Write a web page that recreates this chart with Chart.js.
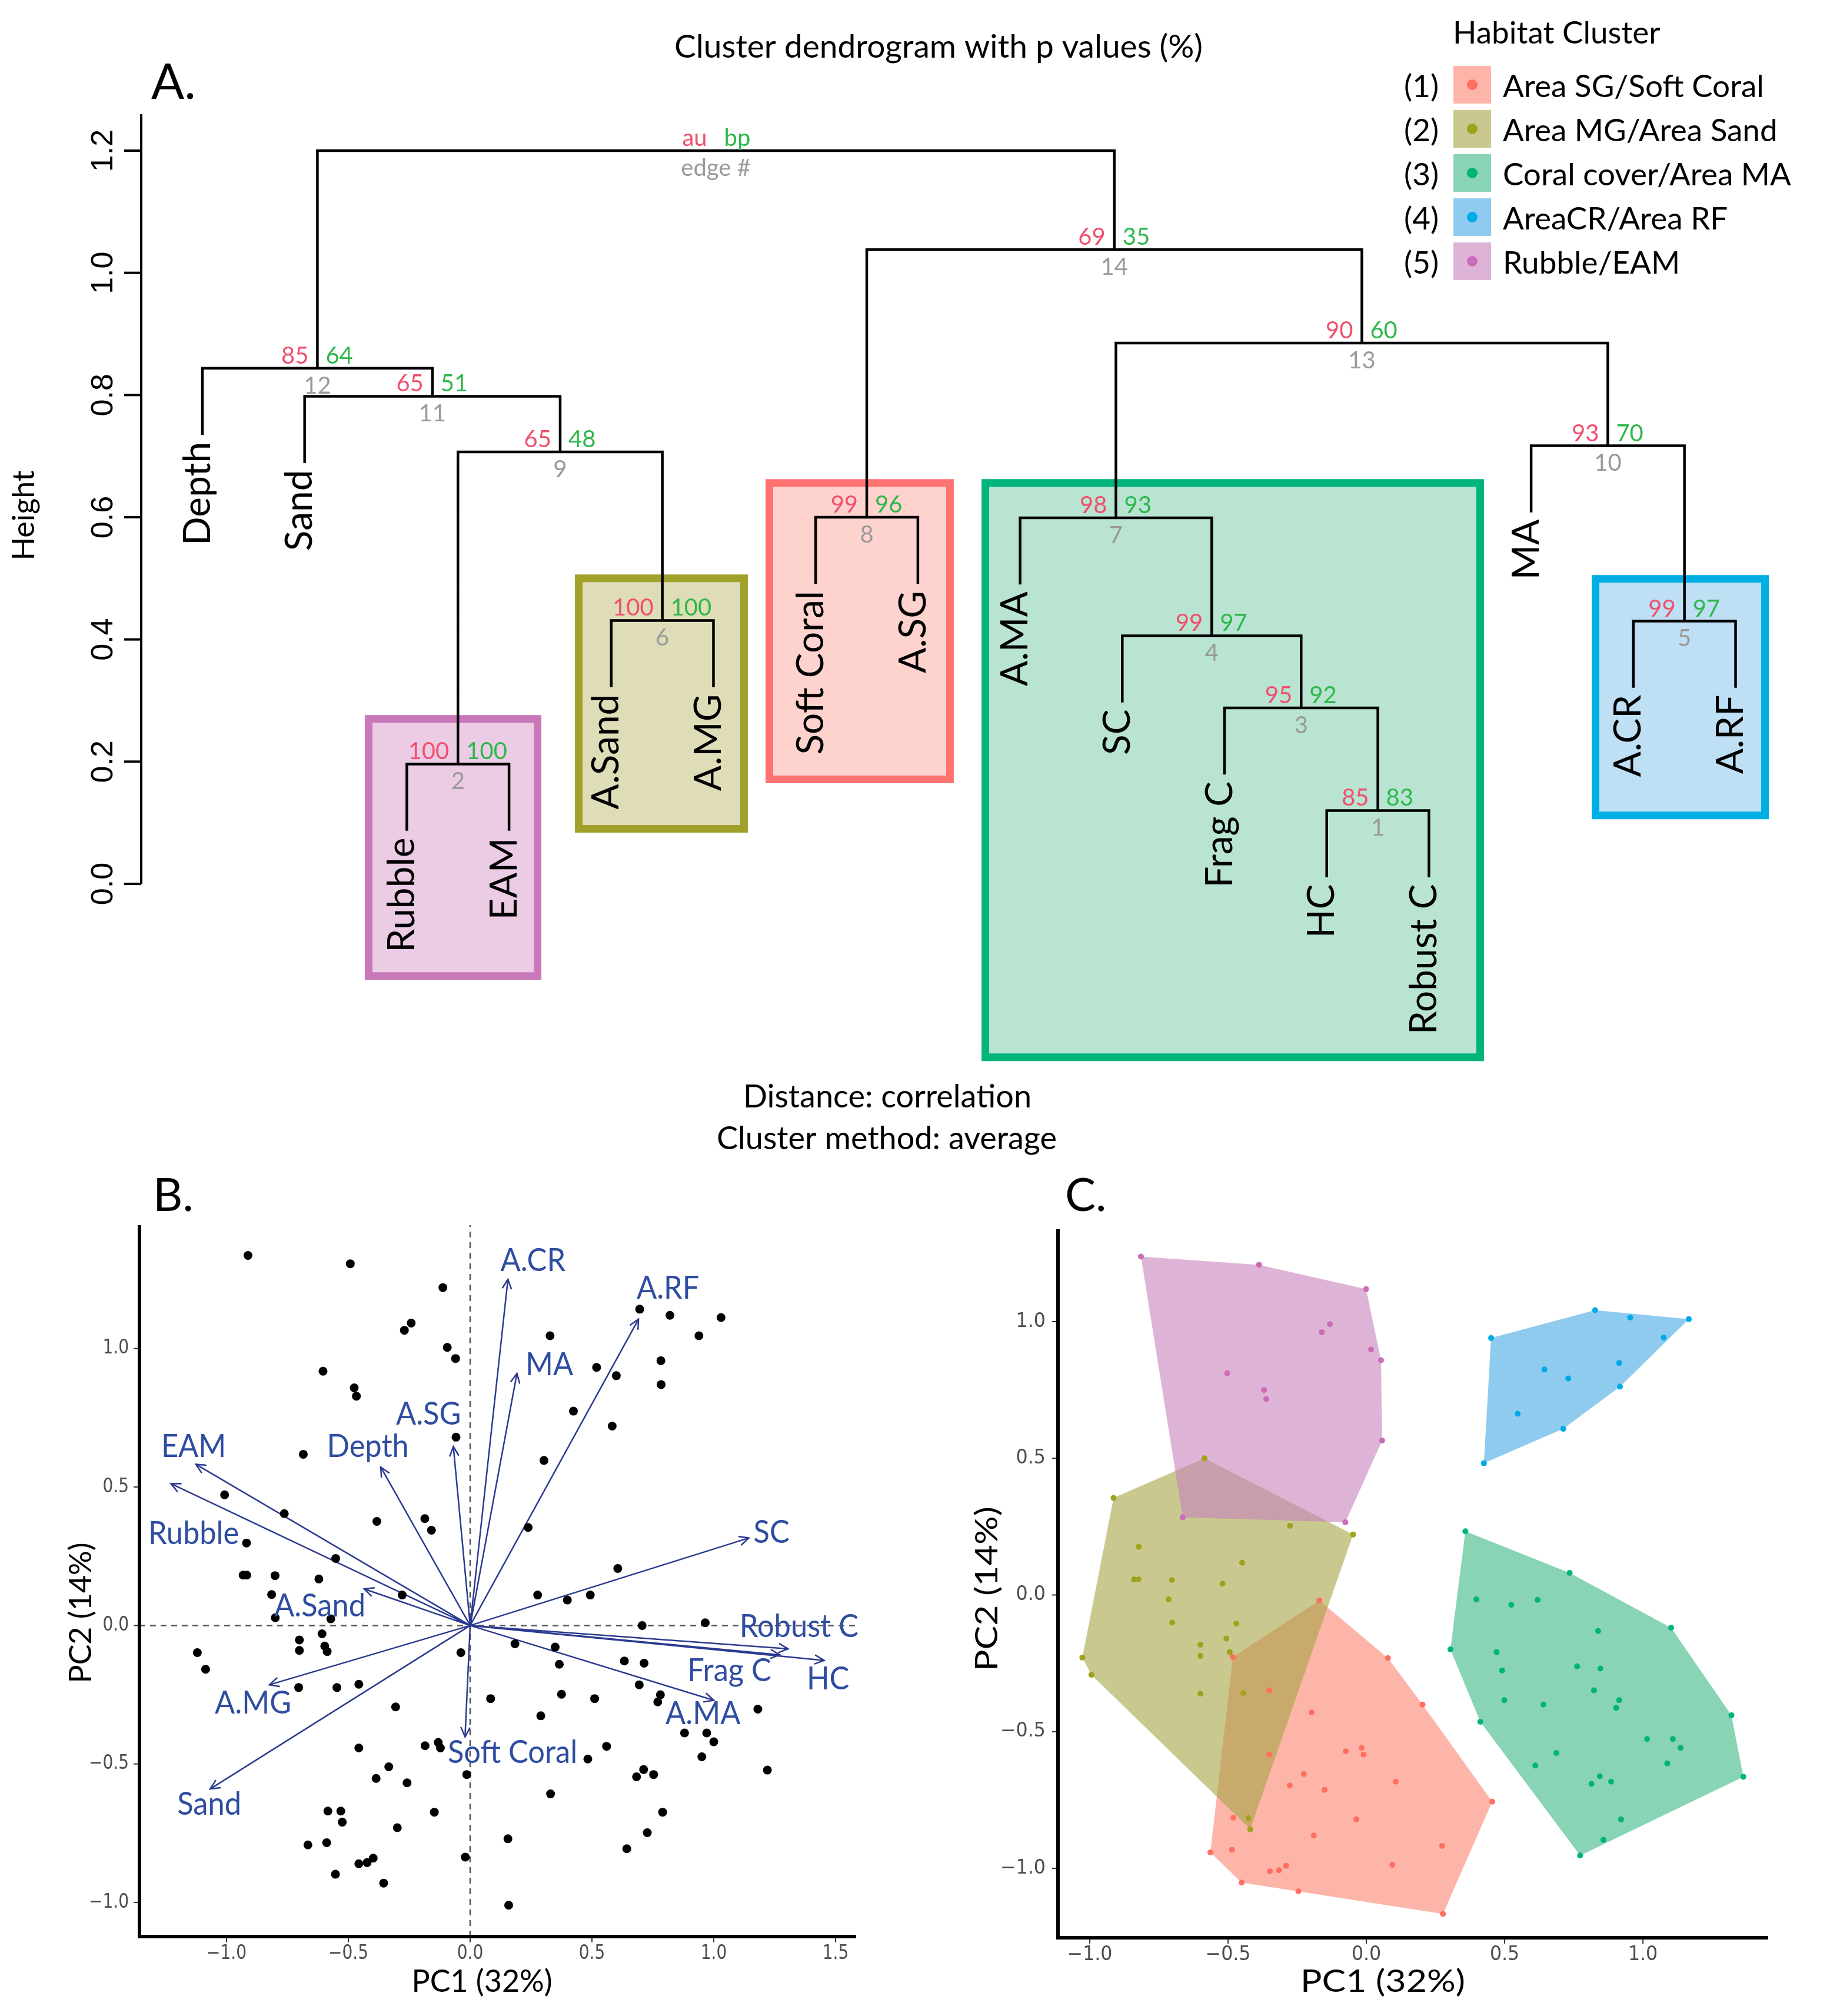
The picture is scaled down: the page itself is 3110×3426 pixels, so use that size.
<!DOCTYPE html>
<html lang="en">
<head>
<meta charset="utf-8">
<title>Habitat clusters: dendrogram and PCA</title>
<style>
  html, body { margin: 0; padding: 0; background: #ffffff; }
  #page { position: relative; width: 3110px; height: 3426px; background: #ffffff; }
  #page canvas { position: absolute; }
</style>
</head>
<body>
<div id="page">
  <canvas id="dendro" width="3110" height="1975" style="left:0;top:0;width:3110px;height:1975px"></canvas>
  <canvas id="biplot" width="1560" height="1451" style="left:0;top:1975px;width:1560px;height:1451px"></canvas>
  <canvas id="groups" width="1550" height="1451" style="left:1560px;top:1975px;width:1550px;height:1451px"></canvas>
</div>
<script src="https://cdn.jsdelivr.net/npm/chart.js@4.4.1/dist/chart.umd.min.js"></script>
<script>
// ---------- A. dendrogram (pvclust) ----------
var leafLabels = ['Depth', 'Sand', 'Rubble', 'EAM', 'A.Sand', 'A.MG', 'Soft Coral', 'A.SG',
  'A.MA', 'SC', 'Frag C', 'HC', 'Robust C', 'MA', 'A.CR', 'A.RF'];
// merge table like hclust: negative = leaf number, positive = earlier edge
var edgeLeft   = [-12, -3, -11, -10, -15, -5, -9, -7, 2, -14, -2, -1, 7, 8, 12];
var edgeRight  = [-13, -4, 1, 3, -16, -6, 4, -8, 6, 5, 9, 11, 10, 13, 14];
var edgeHeight = [0.120, 0.196, 0.288, 0.406, 0.430, 0.431, 0.599, 0.600, 0.707, 0.717, 0.798, 0.844, 0.885, 1.038, 1.200];
var edgeAU = [85, 100, 95, 99, 99, 100, 98, 99, 65, 93, 65, 85, 90, 69];
var edgeBP = [83, 100, 92, 97, 97, 100, 93, 96, 48, 70, 51, 64, 60, 35];
var leafHang = 0.107;
var heightTicks = [0, 0.2, 0.4, 0.6, 0.8, 1.0, 1.2];

// habitat clusters
var clusterNames = ['Area SG/Soft Coral', 'Area MG/Area Sand', 'Coral cover/Area MA', 'AreaCR/Area RF', 'Rubble/EAM'];
var clusterDot  = ['#FF6F61', '#A0A21E', '#00B577', '#00A9E8', '#CC6BB8'];
var clusterFill = ['rgba(252,132,112,0.6)', 'rgba(165,165,68,0.6)', 'rgba(57,183,132,0.6)', 'rgba(67,168,227,0.6)', 'rgba(198,130,187,0.6)'];
var boxEdge = ['#FF7272', '#9FA12B', '#00B47C', '#00AEE6', '#C978B9'];
var boxFill = ['#FED3CE', '#DFDCB8', '#B9E4D2', '#BEDFF4', '#ECCCE4'];

// boxes round the clusters on the tree (leaf number / height units), left to right
var boxCluster = [5, 2, 1, 3, 4];
var boxX1 = [2.626, 4.682, 6.547, 8.660, 14.630];
var boxX2 = [4.279, 6.299, 8.314, 13.501, 16.288];
var boxTop = [0.270, 0.500, 0.656, 0.656, 0.499];
var boxBottom = [-0.151, 0.090, 0.171, -0.284, 0.112];

// ---------- B. PCA biplot ----------
var siteX = [-0.912, -0.492, -0.112, -0.27, -0.242, -0.094, -0.06, -0.604, -0.476, -0.467, -0.058, -0.685, -1.008, -0.763, -0.383,
  -0.186, -0.159, -0.918, -0.552, -0.932, -0.917, -0.801, -0.621, -0.815, -0.279, -0.8, -0.572, -0.701, -0.608, -0.701,
  -0.597, -0.587, -1.12, -1.086, -0.038, -0.704, -0.547, -0.457, -0.306, -0.457, -0.185, -0.131, -0.122, -0.334, -0.386,
  -0.259, -0.014, -0.584, -0.531, -0.525, -0.147, -0.299, -0.666, -0.589, -0.02, -0.457, -0.423, -0.398, -0.553, -0.355,
  0.328, 0.696, 0.82, 1.03, 0.939, 0.519, 0.6, 0.783, 0.784, 0.424, 0.583, 0.303, 0.238, 0.606, 0.277,
  0.399, 0.493, 0.706, 0.965, 0.184, 0.349, 0.366, 0.633, 0.714, 0.694, 0.084, 0.375, 0.511, 0.781, 0.77,
  0.29, 1.181, 0.88, 0.971, 1.0, 0.951, 0.56, 0.483, 1.22, 0.712, 0.683, 0.753, 0.33, 0.79, 0.727,
  0.643, 0.155, 0.158];
var siteY = [1.336, 1.306, 1.22, 1.066, 1.092, 1.004, 0.964, 0.918, 0.858, 0.828, 0.68, 0.618, 0.472, 0.404, 0.376,
  0.386, 0.344, 0.298, 0.242, 0.182, 0.182, 0.18, 0.168, 0.112, 0.11, 0.028, 0.024, -0.052, -0.03, -0.09,
  -0.074, -0.094, -0.098, -0.158, -0.098, -0.224, -0.224, -0.212, -0.294, -0.442, -0.434, -0.422, -0.442, -0.51, -0.552,
  -0.568, -0.538, -0.67, -0.67, -0.71, -0.674, -0.73, -0.792, -0.784, -0.836, -0.86, -0.856, -0.84, -0.898, -0.93,
  1.046, 1.142, 1.12, 1.112, 1.046, 0.932, 0.902, 0.956, 0.87, 0.774, 0.72, 0.596, 0.354, 0.206, 0.11,
  0.092, 0.11, 0.0, 0.01, -0.066, -0.078, -0.14, -0.128, -0.136, -0.214, -0.264, -0.248, -0.264, -0.25, -0.276,
  -0.326, -0.302, -0.388, -0.388, -0.42, -0.474, -0.436, -0.482, -0.522, -0.52, -0.546, -0.538, -0.608, -0.674, -0.748,
  -0.806, -0.77, -1.01];
var loadName = ['EAM', 'Rubble', 'Depth', 'A.SG', 'A.Sand', 'A.MG', 'Sand', 'Soft Coral',
  'A.CR', 'MA', 'A.RF', 'SC', 'Robust C', 'Frag C', 'HC', 'A.MA'];
var loadX = [-1.126, -1.228, -0.367, -0.069, -0.435, -0.824, -1.067, -0.021, 0.155, 0.192, 0.691, 1.144, 1.305, 1.271, 1.453, 1.0];
var loadY = [0.582, 0.512, 0.572, 0.646, 0.132, -0.214, -0.59, -0.402, 1.25, 0.91, 1.106, 0.316, -0.084, -0.106, -0.126, -0.27];
var loadLabelX = [-1.135, -1.135, -0.42, -0.171, -0.617, -0.891, -1.071, 0.174, 0.258, 0.325, 0.812, 1.237, 1.35, 1.064, 1.469, 0.956];
var loadLabelY = [0.646, 0.332, 0.646, 0.762, 0.07, -0.28, -0.646, -0.458, 1.318, 0.942, 1.218, 0.336, -0.004, -0.164, -0.194, -0.318];
var bTicksX = [-1, -0.5, 0, 0.5, 1, 1.5];
var bTicksY = [-1, -0.5, 0, 0.5, 1];

// ---------- C. sites by habitat cluster ----------
var sgX = [-0.17, -0.483, -0.351, -0.198, -0.351, -0.226, -0.277, -0.151, -0.074, -0.017, -0.01, -0.036, -0.19, -0.481,
  -0.486, -0.564, -0.451, -0.349, -0.316, -0.29, -0.246, 0.078, 0.106, 0.094, 0.203, 0.455, 0.274, 0.277];
var sgY = [-0.02, -0.227, -0.349, -0.43, -0.584, -0.655, -0.697, -0.713, -0.572, -0.559, -0.584, -0.821, -0.88, -0.815,
  -0.932, -0.942, -1.052, -1.011, -1.007, -0.991, -1.084, -0.231, -0.683, -0.987, -0.401, -0.756, -0.918, -1.167];
var mgX = [-0.585, -0.914, -0.823, -0.84, -0.824, -0.703, -0.715, -0.702, -0.52, -0.449, -0.47, -0.506, -0.494, -0.6,
  -0.6, -0.6, -0.445, -1.027, -0.994, -0.427, -0.42, -0.276, -0.048];
var mgY = [0.5, 0.355, 0.176, 0.057, 0.057, 0.055, -0.016, -0.101, 0.041, 0.118, -0.105, -0.16, -0.209, -0.182,
  -0.223, -0.361, -0.359, -0.229, -0.292, -0.817, -0.857, 0.253, 0.221];
var coralX = [0.358, 0.735, 0.398, 0.524, 0.619, 1.102, 0.838, 0.304, 0.471, 0.491, 0.762, 0.846, 0.823, 0.499, 0.64, 0.914,
  0.903, 0.412, 1.32, 1.015, 1.108, 1.136, 1.088, 0.687, 0.611, 0.844, 0.814, 0.885, 1.363, 0.921, 0.857, 0.773];
var coralY = [0.233, 0.081, -0.016, -0.036, -0.018, -0.12, -0.132, -0.199, -0.209, -0.276, -0.261, -0.269, -0.349, -0.385, -0.401, -0.385,
  -0.413, -0.464, -0.44, -0.527, -0.527, -0.559, -0.616, -0.578, -0.624, -0.663, -0.691, -0.683, -0.665, -0.821, -0.896, -0.953];
var crX = [0.451, 0.827, 0.954, 1.166, 1.075, 0.914, 0.644, 0.73, 0.917, 0.547, 0.712, 0.425];
var crY = [0.94, 1.042, 1.015, 1.009, 0.942, 0.849, 0.825, 0.792, 0.762, 0.663, 0.608, 0.482];
var rubbleX = [-0.815, -0.388, -0.001, -0.161, -0.132, -0.503, -0.37, -0.362, 0.017, 0.053, 0.057, -0.664, -0.076];
var rubbleY = [1.238, 1.208, 1.119, 0.961, 0.991, 0.811, 0.75, 0.717, 0.898, 0.859, 0.565, 0.284, 0.266];
var cTicksX = [-1, -0.5, 0, 0.5, 1];
var cTicksY = [-1, -0.5, 0, 0.5, 1];

// ---------- helpers ----------
function txt(ctx, s, x, y, o) {
  ctx.save();
  ctx.translate(x, y);
  ctx.scale(o.sx || 1, o.sy || 1);
  if (o.rot) ctx.rotate(o.rot);
  ctx.font = o.font;
  ctx.fillStyle = o.color || '#000000';
  ctx.textAlign = o.align || 'left';
  ctx.textBaseline = o.base || 'alphabetic';
  ctx.fillText(s, 0, 0);
  ctx.restore();
}
function tickText(v) {
  var s = Math.abs(v).toFixed(1);
  return v < 0 ? '\u2212' + s : s;
}
function pts(xs, ys) {
  return xs.map(function (x, i) { return {x: x, y: ys[i]}; });
}
function hull(xs, ys) {
  var p = pts(xs, ys).sort(function (a, b) { return a.x - b.x || a.y - b.y; });
  function cross(o, a, b) { return (a.x - o.x) * (b.y - o.y) - (a.y - o.y) * (b.x - o.x); }
  function half(list) {
    var h = [];
    list.forEach(function (q) {
      while (h.length > 1 && cross(h[h.length - 2], h[h.length - 1], q) <= 0) h.pop();
      h.push(q);
    });
    h.pop();
    return h;
  }
  var ring = half(p).concat(half(p.slice().reverse()));
  ring.push(ring[0]);
  return ring;
}
function baseOptions(xmin, xmax, ymin, ymax, pad) {
  return {
    responsive: false, animation: false, devicePixelRatio: 1, events: [],
    layout: {padding: pad},
    plugins: {legend: {display: false}, tooltip: {enabled: false}},
    scales: {
      x: {type: 'linear', min: xmin, max: xmax, display: false},
      y: {type: 'linear', min: ymin, max: ymax, display: false}
    }
  };
}
var pvRed = '#F0506E', pvGreen = '#2EB84C', pvGrey = '#9A9A9A';

// ---------- build the tree ----------
var nodeX = [];
function posOf(c) { return c < 0 ? -c : nodeX[c - 1]; }
edgeLeft.forEach(function (l, i) { nodeX.push((posOf(l) + posOf(edgeRight[i])) / 2); });
var leafTop = [];
function bottomOf(c, h) {
  if (c < 0) { leafTop[-c - 1] = h - leafHang; return h - leafHang; }
  return edgeHeight[c - 1];
}
var dendroPts = [];
edgeLeft.forEach(function (l, i) {
  var r = edgeRight[i], h = edgeHeight[i];
  dendroPts.push({x: posOf(l), y: bottomOf(l, h)}, {x: posOf(l), y: h}, {x: posOf(r), y: h},
    {x: posOf(r), y: bottomOf(r, h)}, {x: posOf(r), y: null});
});

var boxSets = boxX1.map(function (x1, k) {
  var c = boxCluster[k] - 1, x2 = boxX2[k], t = boxTop[k], b = boxBottom[k];
  return {
    data: [{x: x1, y: t}, {x: x2, y: t}, {x: x2, y: b}, {x: x1, y: b}, {x: x1, y: t}],
    showLine: true, fill: 'shape', backgroundColor: boxFill[c], borderColor: boxEdge[c],
    borderWidth: 13, borderJoinStyle: 'miter', borderCapStyle: 'square',
    pointRadius: 0, tension: 0, order: 2, clip: false
  };
});

var dendroDecor = {
  id: 'dendroDecor',
  afterDraw: function (chart) {
    var ctx = chart.ctx, xs = chart.scales.x, ys = chart.scales.y;
    var ax = xs.left;
    ctx.save();
    ctx.strokeStyle = '#000000';
    ctx.lineWidth = 4;
    ctx.beginPath();
    ctx.moveTo(ax, ys.getPixelForValue(0));
    ctx.lineTo(ax, ys.top);
    ctx.stroke();
    heightTicks.forEach(function (t) {
      var py = ys.getPixelForValue(t);
      ctx.beginPath(); ctx.moveTo(ax - 29, py); ctx.lineTo(ax, py); ctx.stroke();
      txt(ctx, t.toFixed(1), ax - 63, py, {font: '52px "Liberation Sans"', rot: -Math.PI / 2, align: 'center', base: 'middle'});
    });
    ctx.restore();
    txt(ctx, 'Height', 41, 876, {font: '52px Lato', rot: -Math.PI / 2, align: 'center', base: 'middle'});

    // leaf labels
    leafLabels.forEach(function (s, i) {
      txt(ctx, s, xs.getPixelForValue(i + 1) - 8, ys.getPixelForValue(leafTop[i]) + 14,
        {font: '64px Lato', rot: -Math.PI / 2, align: 'right', base: 'middle'});
    });
    // au / bp / edge numbers
    edgeHeight.forEach(function (h, i) {
      var px = xs.getPixelForValue(nodeX[i]), py = ys.getPixelForValue(h);
      var au = i < edgeAU.length ? String(edgeAU[i]) : 'au';
      var bp = i < edgeBP.length ? String(edgeBP[i]) : 'bp';
      var ed = i < edgeAU.length ? String(i + 1) : 'edge #';
      txt(ctx, au, px - 15, py - 8, {font: '40px Lato', color: pvRed, align: 'right'});
      txt(ctx, bp, px + 14, py - 8, {font: '40px Lato', color: pvGreen, align: 'left'});
      txt(ctx, ed, px, py + 10, {font: '40px Lato', color: pvGrey, align: 'center', base: 'top'});
    });

    txt(ctx, 'A.', 257, 168, {font: '83px Lato'});
    txt(ctx, 'Cluster dendrogram with p values (%)', 1595, 98, {font: '55px Lato', align: 'center'});
    txt(ctx, 'Distance: correlation', 1508, 1882, {font: '54px Lato', align: 'center'});
    txt(ctx, 'Cluster method: average', 1507, 1953, {font: '54px Lato', align: 'center'});

    // legend
    txt(ctx, 'Habitat Cluster', 2469, 74, {font: '53px Lato'});
    clusterNames.forEach(function (name, k) {
      var cy = 144 + k * 75;
      txt(ctx, '(' + (k + 1) + ')', 2386, cy + 21, {font: '53px Lato'});
      ctx.save();
      ctx.fillStyle = clusterFill[k];
      ctx.fillRect(2470, cy - 32, 64, 64);
      ctx.fillStyle = clusterDot[k];
      ctx.beginPath(); ctx.arc(2502, cy, 9, 0, Math.PI * 2); ctx.fill();
      ctx.restore();
      txt(ctx, name, 2554, cy + 21, {font: '53px Lato'});
    });
  }
};

new Chart(document.getElementById('dendro'), {
  type: 'scatter',
  data: {
    datasets: [{
      data: dendroPts, showLine: true, spanGaps: false, borderColor: '#000000', borderWidth: 4.5,
      borderCapStyle: 'square', pointRadius: 0, tension: 0, order: 1, clip: false
    }].concat(boxSets)
  },
  options: baseOptions(0.4013, 16.6016, -0.3005, 1.2597, {left: 240, right: 56, top: 194, bottom: 161}),
  plugins: [dendroDecor]
});

// ---------- axes for B and C (ggplot classic look) ----------
function panelAxes(chart, o) {
  var ctx = chart.ctx, xs = chart.scales.x, ys = chart.scales.y;
  ctx.save();
  ctx.strokeStyle = '#333333';
  ctx.lineWidth = 2;
  o.ticksY.forEach(function (t) {
    var py = ys.getPixelForValue(t);
    ctx.beginPath(); ctx.moveTo(xs.left - 10, py); ctx.lineTo(xs.left, py); ctx.stroke();
    txt(ctx, tickText(t), xs.left - o.yGap, py, {font: '33px "DejaVu Sans"', color: '#4D4D4D', align: 'right', base: 'middle', sx: o.tsx});
  });
  o.ticksX.forEach(function (t) {
    var px = xs.getPixelForValue(t);
    ctx.beginPath(); ctx.moveTo(px, ys.bottom); ctx.lineTo(px, ys.bottom + 10); ctx.stroke();
    txt(ctx, tickText(t), px, ys.bottom + 29, {font: '33px "DejaVu Sans"', color: '#4D4D4D', align: 'center', base: 'middle', sx: o.tsx});
  });
  ctx.strokeStyle = '#000000';
  ctx.lineWidth = 6;
  ctx.beginPath();
  ctx.moveTo(xs.left, ys.top);
  ctx.lineTo(xs.left, ys.bottom);
  ctx.lineTo(xs.right, ys.bottom);
  ctx.stroke();
  ctx.restore();
}

// ---------- B ----------
var arrowPts = [];
loadX.forEach(function (x, i) {
  arrowPts.push({x: 0, y: 0}, {x: x, y: loadY[i]}, {x: x, y: null});
});
var bXmin = -1.3575, bXmax = 1.5845, bYmin = -1.123, bYmax = 1.4455;

var biplotDecor = {
  id: 'biplotDecor',
  afterDraw: function (chart) {
    var ctx = chart.ctx, xs = chart.scales.x, ys = chart.scales.y;
    var ox = xs.getPixelForValue(0), oy = ys.getPixelForValue(0);
    ctx.save();
    ctx.strokeStyle = '#2B3A8F';
    ctx.lineWidth = 2.5;
    loadX.forEach(function (x, i) {
      var tx = xs.getPixelForValue(x), ty = ys.getPixelForValue(loadY[i]);
      var a = Math.atan2(ty - oy, tx - ox), len = 18, ang = 0.45;
      ctx.beginPath();
      ctx.moveTo(tx - len * Math.cos(a - ang), ty - len * Math.sin(a - ang));
      ctx.lineTo(tx, ty);
      ctx.lineTo(tx - len * Math.cos(a + ang), ty - len * Math.sin(a + ang));
      ctx.stroke();
    });
    ctx.restore();
    loadName.forEach(function (s, i) {
      txt(ctx, s, xs.getPixelForValue(loadLabelX[i]), ys.getPixelForValue(loadLabelY[i]),
        {font: '55px Lato', color: '#2F4DA0', align: 'center', base: 'middle', sx: 0.92});
    });
    panelAxes(chart, {ticksX: bTicksX, ticksY: bTicksY, yGap: 18, tsx: 0.85});
    txt(ctx, 'B.', 260, 83, {font: '78px Lato'});
    txt(ctx, 'PC1 (32%)', 819, 1410, {font: '52px Lato', align: 'center'});
    txt(ctx, 'PC2 (14%)', 138, 766, {font: '52px Lato', align: 'center', base: 'middle', rot: -Math.PI / 2});
  }
};

new Chart(document.getElementById('biplot'), {
  type: 'scatter',
  data: {
    datasets: [
      {data: pts(siteX, siteY), pointRadius: 7.5, backgroundColor: '#000000', borderWidth: 0, order: 1, clip: false},
      {data: arrowPts, showLine: true, spanGaps: false, borderColor: '#2B3A8F', borderWidth: 2.5, pointRadius: 0, order: 2, clip: false},
      {data: [{x: bXmin, y: 0}, {x: bXmax, y: 0}], showLine: true, borderColor: '#555555', borderWidth: 2.5,
        borderDash: [10, 8], pointRadius: 0, order: 3},
      {data: [{x: 0, y: bYmin}, {x: 0, y: bYmax}], showLine: true, borderColor: '#555555', borderWidth: 2.5,
        borderDash: [10, 8], pointRadius: 0, order: 3}
    ]
  },
  options: baseOptions(bXmin, bXmax, bYmin, bYmax, {left: 237, right: 105, top: 107, bottom: 135}),
  plugins: [biplotDecor]
});

// ---------- C ----------
var groupX = [sgX, mgX, coralX, crX, rubbleX];
var groupY = [sgY, mgY, coralY, crY, rubbleY];
var hullSets = groupX.map(function (xs, k) {
  return {
    data: hull(xs, groupY[k]), showLine: true, fill: 'shape', backgroundColor: clusterFill[k],
    borderColor: 'rgba(0,0,0,0)', borderWidth: 1, pointRadius: 0, tension: 0, order: 10 - k
  };
});
var pointSets = groupX.map(function (xs, k) {
  return {data: pts(xs, groupY[k]), pointRadius: 5, backgroundColor: clusterDot[k], borderWidth: 0, order: 0, clip: false};
});

var groupsDecor = {
  id: 'groupsDecor',
  afterDraw: function (chart) {
    var ctx = chart.ctx;
    panelAxes(chart, {ticksX: cTicksX, ticksY: cTicksY, yGap: 21, tsx: 0.96});
    txt(ctx, 'C.', 250, 83, {font: '78px Lato'});
    txt(ctx, 'PC1 (32%)', 790, 1410, {font: '52px Lato', align: 'center', sx: 1.17});
    txt(ctx, 'PC2 (14%)', 118, 725, {font: '52px Lato', align: 'center', base: 'middle', rot: -Math.PI / 2, sy: 1.17});
  }
};

new Chart(document.getElementById('groups'), {
  type: 'scatter',
  data: {datasets: pointSets.concat(hullSets)},
  options: baseOptions(-1.115, 1.453, -1.254, 1.338, {left: 238, right: 105, top: 114, bottom: 133}),
  plugins: [groupsDecor]
});
</script>
</body>
</html>
